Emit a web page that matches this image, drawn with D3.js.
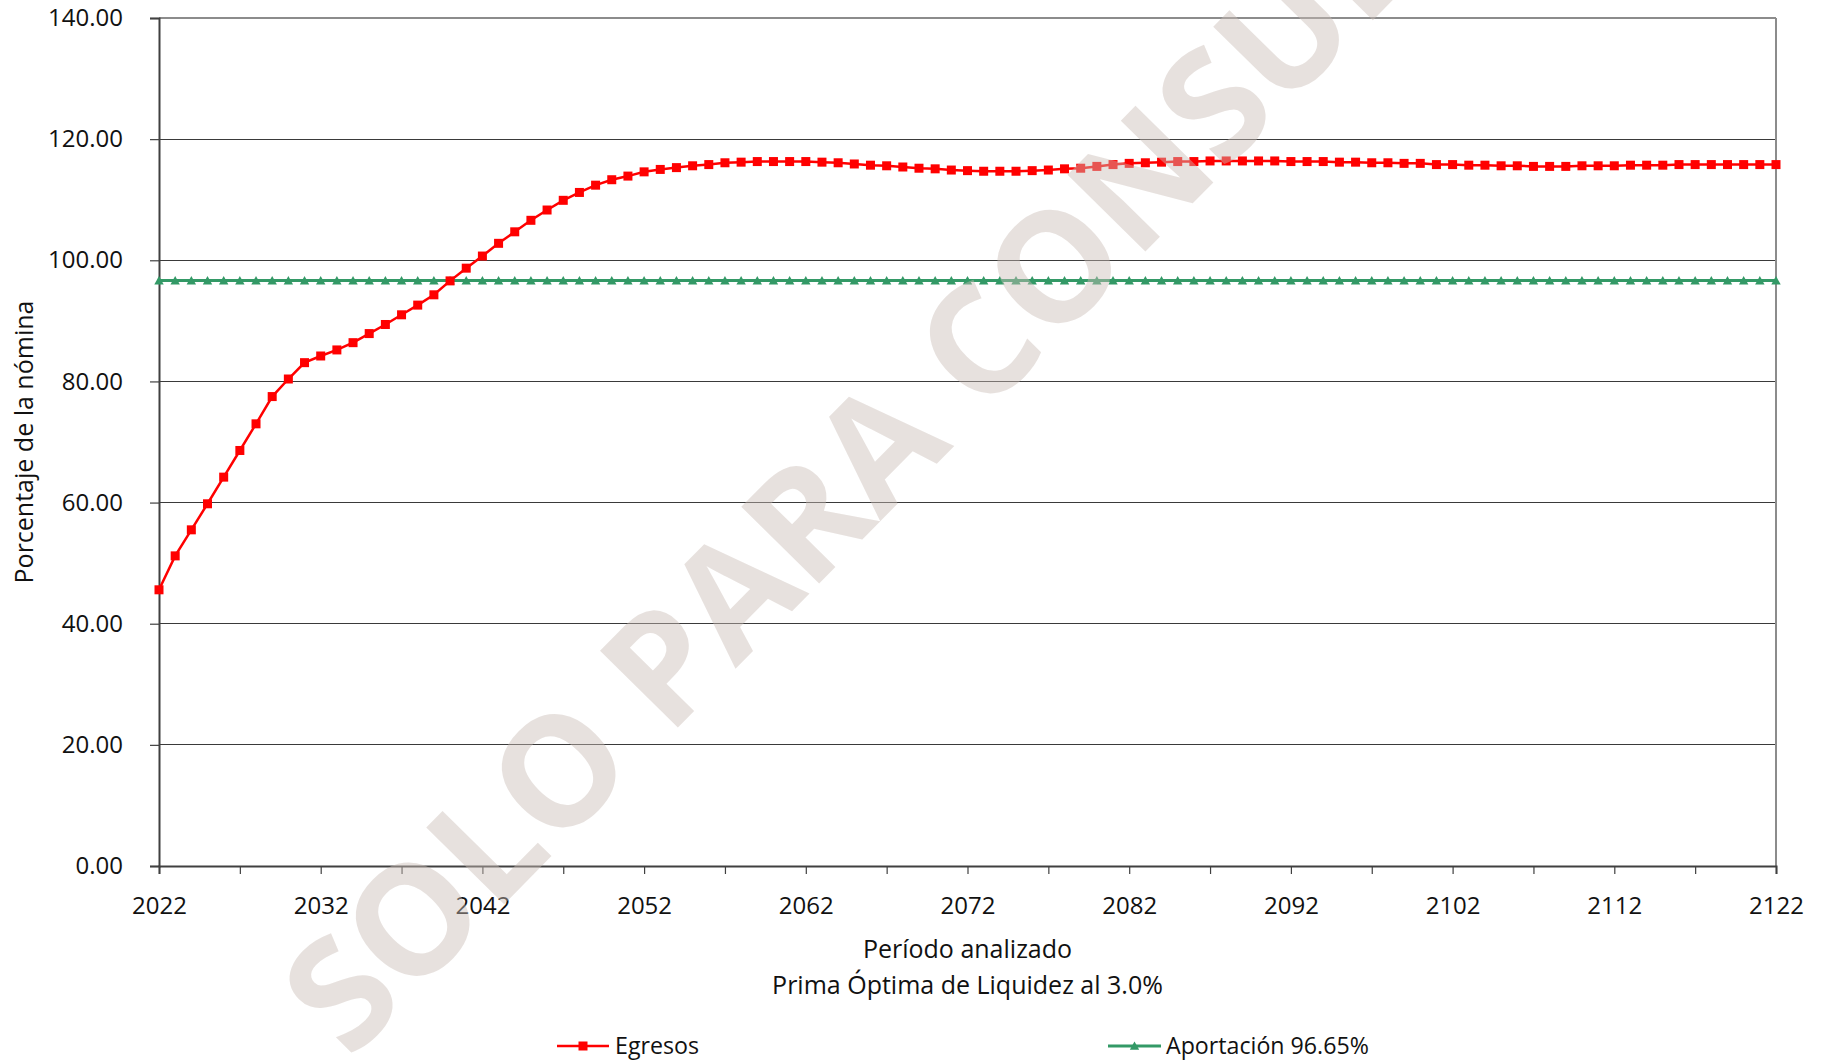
<!DOCTYPE html>
<html><head><meta charset="utf-8">
<script src="https://cdn.jsdelivr.net/npm/d3@7/dist/d3.min.js"></script>
<style>
html,body{margin:0;padding:0;background:#fff;}
svg{display:block;font-family:"Open Sans",sans-serif;}
</style>
</head><body>
<svg id="chart" width="1829" height="1061"></svg>
<script>
const years = d3.range(2022, 2123);
const egresos = [
 45.6, 51.2, 55.5, 59.8, 64.2, 68.6, 73.0, 77.5, 80.4, 83.1,
 84.2, 85.2, 86.4, 87.9, 89.4, 91.0, 92.6, 94.3, 96.6, 98.7,
 100.7, 102.8, 104.7, 106.6, 108.3, 109.9, 111.2, 112.4, 113.3, 113.9,
 114.6, 115.0, 115.3, 115.6, 115.8, 116.1, 116.2, 116.3, 116.3, 116.3,
 116.3, 116.2, 116.1, 115.9, 115.7, 115.6, 115.4, 115.2, 115.1, 114.9,
 114.8, 114.7, 114.7, 114.7, 114.8, 114.9, 115.1, 115.2, 115.5, 115.8,
 116.0, 116.1, 116.2, 116.3, 116.3, 116.4, 116.4, 116.4, 116.4, 116.4,
 116.3, 116.3, 116.3, 116.2, 116.2, 116.1, 116.1, 116.0, 116.0, 115.8,
 115.8, 115.7, 115.7, 115.6, 115.6, 115.5, 115.5, 115.5, 115.6, 115.6,
 115.6, 115.7, 115.7, 115.7, 115.8, 115.8, 115.8, 115.8, 115.8, 115.8,
 115.8
];
const aportacion = [
 96.65, 96.65, 96.65, 96.65, 96.65, 96.65, 96.65, 96.65, 96.65, 96.65,
 96.65, 96.65, 96.65, 96.65, 96.65, 96.65, 96.65, 96.65, 96.65, 96.65,
 96.65, 96.65, 96.65, 96.65, 96.65, 96.65, 96.65, 96.65, 96.65, 96.65,
 96.65, 96.65, 96.65, 96.65, 96.65, 96.65, 96.65, 96.65, 96.65, 96.65,
 96.65, 96.65, 96.65, 96.65, 96.65, 96.65, 96.65, 96.65, 96.65, 96.65,
 96.65, 96.65, 96.65, 96.65, 96.65, 96.65, 96.65, 96.65, 96.65, 96.65,
 96.65, 96.65, 96.65, 96.65, 96.65, 96.65, 96.65, 96.65, 96.65, 96.65,
 96.65, 96.65, 96.65, 96.65, 96.65, 96.65, 96.65, 96.65, 96.65, 96.65,
 96.65, 96.65, 96.65, 96.65, 96.65, 96.65, 96.65, 96.65, 96.65, 96.65,
 96.65, 96.65, 96.65, 96.65, 96.65, 96.65, 96.65, 96.65, 96.65, 96.65,
 96.65
];
const yTickValues = [0, 20, 40, 60, 80, 100, 120, 140];
const xLabelYears = [2022, 2032, 2042, 2052, 2062, 2072, 2082, 2092, 2102, 2112, 2122];
const xTickYears = [2022, 2027, 2032, 2037, 2042, 2047, 2052, 2057, 2062, 2067, 2072, 2077, 2082, 2087, 2092, 2097, 2102, 2107, 2112, 2117, 2122];
const seriesNames = ["Egresos", "Aportación 96.65%"];
const xTitle = "Período analizado";
const xSubtitle = "Prima Óptima de Liquidez al 3.0%";
const yTitle = "Porcentaje de la nómina";
const watermark = "SOLO PARA CONSULTA";

const L = 159, R = 1776, T = 18, B = 866;
const svg = d3.select("#chart");
const x = d3.scaleLinear().domain([2022, 2122]).range([L, R]);
const y = d3.scaleLinear().domain([0, 140]).range([B, T]);

// gridlines
svg.append("g").selectAll("line").data(yTickValues.filter(v => v > 0 && v < 140)).join("line")
  .attr("x1", L).attr("x2", R).attr("y1", d => y(d)).attr("y2", d => y(d))
  .attr("stroke", "#3a3a3a").attr("stroke-width", 1.2).attr("shape-rendering", "crispEdges");

// top / right border
svg.append("line").attr("x1", L).attr("x2", R).attr("y1", T).attr("y2", T)
  .attr("stroke", "#8c8c8c").attr("stroke-width", 2);
svg.append("line").attr("x1", R).attr("x2", R).attr("y1", T).attr("y2", B)
  .attr("stroke", "#8c8c8c").attr("stroke-width", 2);

// y axis
const yAxis = d3.axisLeft(y).tickValues(yTickValues).tickFormat(d3.format(".2f")).tickSize(9).tickPadding(27);
const gy = svg.append("g").attr("transform", `translate(${L},0)`).call(yAxis);
gy.select(".domain").attr("stroke", "#404040").attr("stroke-width", 2);
gy.selectAll(".tick line").attr("stroke", "#404040").attr("stroke-width", 1.2);
gy.selectAll(".tick text").attr("font-family", "Open Sans").attr("font-size", 24).attr("fill", "#111");

// x axis
const xAxis = d3.axisBottom(x).tickValues(xTickYears).tickFormat(d => xLabelYears.includes(d) ? String(d) : "").tickSize(8).tickPadding(23);
const gx = svg.append("g").attr("transform", `translate(0,${B})`).call(xAxis);
gx.select(".domain").attr("stroke", "#404040").attr("stroke-width", 2);
gx.selectAll(".tick line").attr("stroke", "#404040").attr("stroke-width", 1.2);
gx.selectAll(".tick text").attr("font-family", "Open Sans").attr("font-size", 24).attr("fill", "#111");

// titles
svg.append("text").attr("x", (L + R) / 2).attr("y", 958).attr("text-anchor", "middle")
  .attr("font-size", 25).attr("fill", "#111").text(xTitle);
svg.append("text").attr("x", (L + R) / 2).attr("y", 994).attr("text-anchor", "middle")
  .attr("font-size", 25).attr("fill", "#111").text(xSubtitle);
svg.append("text").attr("transform", `translate(33,${(T + B) / 2}) rotate(-90)`).attr("text-anchor", "middle")
  .attr("font-size", 25).attr("fill", "#111").text(yTitle);

// series
const green = "#339966", red = "#ff0000";
const lineGen = d3.line().x((d, i) => x(years[i])).y(d => y(d));
svg.append("path").datum(aportacion).attr("d", lineGen).attr("fill", "none")
  .attr("stroke", green).attr("stroke-width", 3);
const triType = { draw(ctx) { ctx.moveTo(0, -4.5); ctx.lineTo(4.7, 3.8); ctx.lineTo(-4.7, 3.8); ctx.closePath(); } };
const tri = d3.symbol().type(triType);
svg.append("g").selectAll("path").data(aportacion).join("path")
  .attr("transform", (d, i) => `translate(${x(years[i])},${y(d)})`)
  .attr("d", tri).attr("fill", green);

svg.append("path").datum(egresos).attr("d", lineGen).attr("fill", "none")
  .attr("stroke", red).attr("stroke-width", 2.5);
svg.append("g").selectAll("rect").data(egresos).join("rect")
  .attr("x", (d, i) => x(years[i]) - 4.5).attr("y", d => y(d) - 4.5)
  .attr("width", 9).attr("height", 9).attr("fill", red);

// legend
const legY = 1046;
const leg = svg.append("g");
leg.append("line").attr("x1", 557).attr("x2", 609).attr("y1", legY).attr("y2", legY).attr("stroke", red).attr("stroke-width", 2.5);
leg.append("rect").attr("x", 583 - 4.5).attr("y", legY - 4.5).attr("width", 9).attr("height", 9).attr("fill", red);
leg.append("text").attr("x", 615).attr("y", legY + 8).attr("font-size", 23.2).attr("fill", "#111").text(seriesNames[0]);
leg.append("line").attr("x1", 1108).attr("x2", 1161).attr("y1", legY).attr("y2", legY).attr("stroke", green).attr("stroke-width", 3);
leg.append("path").attr("transform", `translate(1134.5,${legY})`).attr("d", tri).attr("fill", green);
leg.append("text").attr("x", 1166).attr("y", legY + 8).attr("font-size", 23.2).attr("fill", "#111").text(seriesNames[1]);

// watermark
svg.append("text").attr("transform", "translate(350,1061) rotate(-45.5)")
  .attr("font-size", 153).attr("font-weight", 700).attr("font-family", "Open Sans")
  .attr("fill", "#c9bdb6").attr("fill-opacity", 0.45).text(watermark);
</script>
</body></html>
